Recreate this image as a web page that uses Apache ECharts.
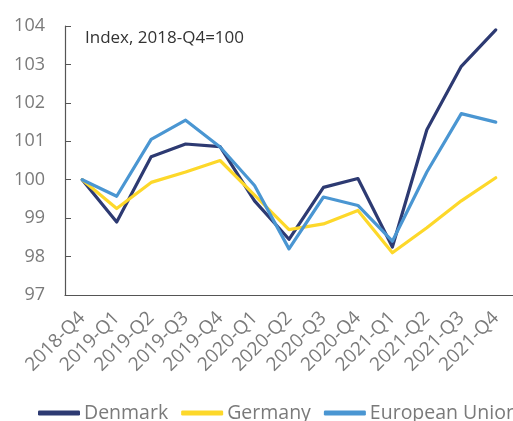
<!DOCTYPE html>
<html>
<head>
<meta charset="utf-8">
<script src="https://cdn.jsdelivr.net/npm/echarts@6/dist/echarts.min.js"></script>
<style>
  html, body { margin: 0; padding: 0; background: #fff; }
  #chart { width: 513px; height: 421px; }
</style>
</head>
<body>
<div id="chart"></div>
<script>
const quarters = [
  "2018-Q4", "2019-Q1", "2019-Q2", "2019-Q3", "2019-Q4", "2020-Q1", "2020-Q2",
  "2020-Q3", "2020-Q4", "2021-Q1", "2021-Q2", "2021-Q3", "2021-Q4",
];
const denmark = [100, 98.9, 100.6, 100.93, 100.86, 99.45, 98.45, 99.8, 100.03, 98.25, 101.3, 102.95, 103.9];
const germany = [100, 99.25, 99.93, 100.2, 100.5, 99.6, 98.7, 98.85, 99.2, 98.1, 98.75, 99.45, 100.05];
const europeanUnion = [100, 99.57, 101.05, 101.55, 100.85, 99.85, 98.2, 99.55, 99.33, 98.4, 100.2, 101.72, 101.5];

const FONT = "Open Sans";
const GREY = "#7a7a7a";
const AXIS = "#555";

function lineSeries(name, data, color) {
  return {
    name,
    type: "line",
    data,
    symbol: "none",
    lineStyle: { width: 3.2, color, cap: "round", join: "round" },
    itemStyle: { color },
  };
}

const chart = echarts.init(document.getElementById("chart"));
chart.setOption({
  animation: false,
  grid: { left: 65, right: -10, top: 26, bottom: 126 },
  graphic: [
    {
      type: "text",
      left: 85,
      top: 30,
      style: { text: "Index, 2018-Q4=100", font: `17px "${FONT}"`, fill: "#333" },
    },
  ],
  legend: {
    bottom: -2,
    left: 38,
    width: 700,
    padding: 0,
    itemGap: 13,
    itemWidth: 42,
    itemHeight: 5,
    icon: "roundRect",
    textStyle: { fontFamily: FONT, fontSize: 19.5, color: GREY, padding: [0, 0, 0, -1] },
    data: ["Denmark", "Germany", "European Union"],
  },
  xAxis: {
    type: "category",
    data: quarters,
    boundaryGap: true,
    axisLine: { lineStyle: { color: AXIS, width: 1.2 } },
    axisTick: { inside: true, length: 6, interval: 0, lineStyle: { color: AXIS } },
    axisLabel: {
      interval: 0,
      hideOverlap: false,
      rotate: 45,
      margin: 20,
      fontFamily: FONT,
      fontSize: 19,
      color: GREY,
    },
  },
  yAxis: {
    type: "value",
    min: 97,
    max: 104,
    interval: 1,
    splitLine: { show: false },
    axisLine: { show: true, lineStyle: { color: AXIS, width: 1.2 } },
    axisTick: { show: true, inside: true, length: 6, lineStyle: { color: AXIS } },
    axisLabel: { margin: 20, fontFamily: FONT, fontSize: 18, color: GREY },
  },
  series: [
    lineSeries("Denmark", denmark, "#2d3a72"),
    lineSeries("Germany", germany, "#fdd82a"),
    lineSeries("European Union", europeanUnion, "#4a96d2"),
  ],
});
</script>
</body>
</html>
